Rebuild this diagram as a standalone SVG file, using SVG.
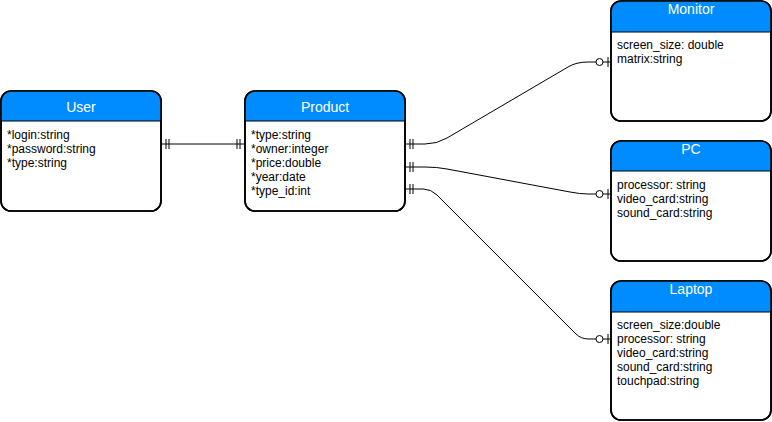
<svg xmlns="http://www.w3.org/2000/svg" width="772" height="422" viewBox="0 0 772 422">
<style>
.box{fill:#fff;stroke:#000;stroke-width:1.6}
.head{fill:#008cff}
.div{stroke:#000;stroke-width:1}
.title{font-family:"Liberation Sans",Arial,sans-serif;font-size:14px;fill:#fff;text-anchor:middle}
.attr{font-family:"Liberation Sans",Arial,sans-serif;font-size:12px;fill:#000}
.conn{fill:none;stroke:#000;stroke-width:1}
</style>
<defs>
<marker id="one" markerUnits="userSpaceOnUse" viewBox="0 0 20 20" markerWidth="20" markerHeight="20" refX="20" refY="10" orient="auto-start-reverse">
<path d="M12,5V15M15,5V15" stroke="#000" stroke-width="1" fill="none"/>
</marker>
<marker id="zeroOne" markerUnits="userSpaceOnUse" viewBox="0 0 20 20" markerWidth="20" markerHeight="20" refX="20" refY="10" orient="auto">
<circle cx="8.5" cy="10" r="3.5" fill="#fff" stroke="#000" stroke-width="1"/>
<path d="M17,5V15" stroke="#000" stroke-width="1" fill="none"/>
</marker>
</defs>
<g id="connectors">
<path class="conn" d="M161,144H245" marker-start="url(#one)" marker-end="url(#one)"/>
<path class="conn" d="M405,144H425Q437,144 447,138L568,67Q576,62 588,62H611" marker-start="url(#one)" marker-end="url(#zeroOne)"/>
<path class="conn" d="M405,167H425Q437,167 447,169L570,192Q580,194 588,194H611" marker-start="url(#one)" marker-end="url(#zeroOne)"/>
<path class="conn" d="M405,189H423Q431,189 437,195L576,334Q581,339 589,339H611" marker-start="url(#one)" marker-end="url(#zeroOne)"/>
</g>
<g id="user">
<rect class="box" x="1" y="91" width="160" height="120" rx="10"/>
<path class="head" d="M1,121V101A10,10 0 0 1 11,91H151A10,10 0 0 1 161,101V121Z"/>
<line class="div" x1="1" y1="121" x2="161" y2="121"/>
<rect x="1" y="91" width="160" height="120" rx="10" fill="none" stroke="#000" stroke-width="1.6"/>
<text class="title" x="81" y="112">User</text>
<text class="attr" x="7" y="138.5">*login:string</text>
<text class="attr" x="7" y="152.5">*password:string</text>
<text class="attr" x="7" y="166.5">*type:string</text>
</g>
<g id="product">
<rect class="box" x="245" y="91" width="160" height="120" rx="10"/>
<path class="head" d="M245,121V101A10,10 0 0 1 255,91H395A10,10 0 0 1 405,101V121Z"/>
<line class="div" x1="245" y1="121" x2="405" y2="121"/>
<rect x="245" y="91" width="160" height="120" rx="10" fill="none" stroke="#000" stroke-width="1.6"/>
<text class="title" x="325" y="112">Product</text>
<text class="attr" x="251" y="138.5">*type:string</text>
<text class="attr" x="251" y="152.5">*owner:integer</text>
<text class="attr" x="251" y="166.5">*price:double</text>
<text class="attr" x="251" y="180.5">*year:date</text>
<text class="attr" x="251" y="194.5">*type_id:int</text>
</g>
<g id="monitor">
<rect class="box" x="611" y="1" width="160" height="120" rx="10"/>
<path class="head" d="M611,32V11A10,10 0 0 1 621,1H761A10,10 0 0 1 771,11V32Z"/>
<line class="div" x1="611" y1="32" x2="771" y2="32"/>
<rect x="611" y="1" width="160" height="120" rx="10" fill="none" stroke="#000" stroke-width="1.6"/>
<text class="title" x="691" y="14">Monitor</text>
<text class="attr" x="617" y="48.5">screen_size: double</text>
<text class="attr" x="617" y="62.5">matrix:string</text>
</g>
<g id="pc">
<rect class="box" x="611" y="141" width="160" height="120" rx="10"/>
<path class="head" d="M611,171V151A10,10 0 0 1 621,141H761A10,10 0 0 1 771,151V171Z"/>
<line class="div" x1="611" y1="171" x2="771" y2="171"/>
<rect x="611" y="141" width="160" height="120" rx="10" fill="none" stroke="#000" stroke-width="1.6"/>
<text class="title" x="691" y="154">PC</text>
<text class="attr" x="617" y="189">processor: string</text>
<text class="attr" x="617" y="203">video_card:string</text>
<text class="attr" x="617" y="217">sound_card:string</text>
</g>
<g id="laptop">
<rect class="box" x="611" y="281" width="160" height="139" rx="10"/>
<path class="head" d="M611,312V291A10,10 0 0 1 621,281H761A10,10 0 0 1 771,291V312Z"/>
<line class="div" x1="611" y1="312" x2="771" y2="312"/>
<rect x="611" y="281" width="160" height="139" rx="10" fill="none" stroke="#000" stroke-width="1.6"/>
<text class="title" x="691" y="294">Laptop</text>
<text class="attr" x="617" y="328.5">screen_size:double</text>
<text class="attr" x="617" y="342.5">processor: string</text>
<text class="attr" x="617" y="356.5">video_card:string</text>
<text class="attr" x="617" y="370.5">sound_card:string</text>
<text class="attr" x="617" y="384.5">touchpad:string</text>
</g>
</svg>
